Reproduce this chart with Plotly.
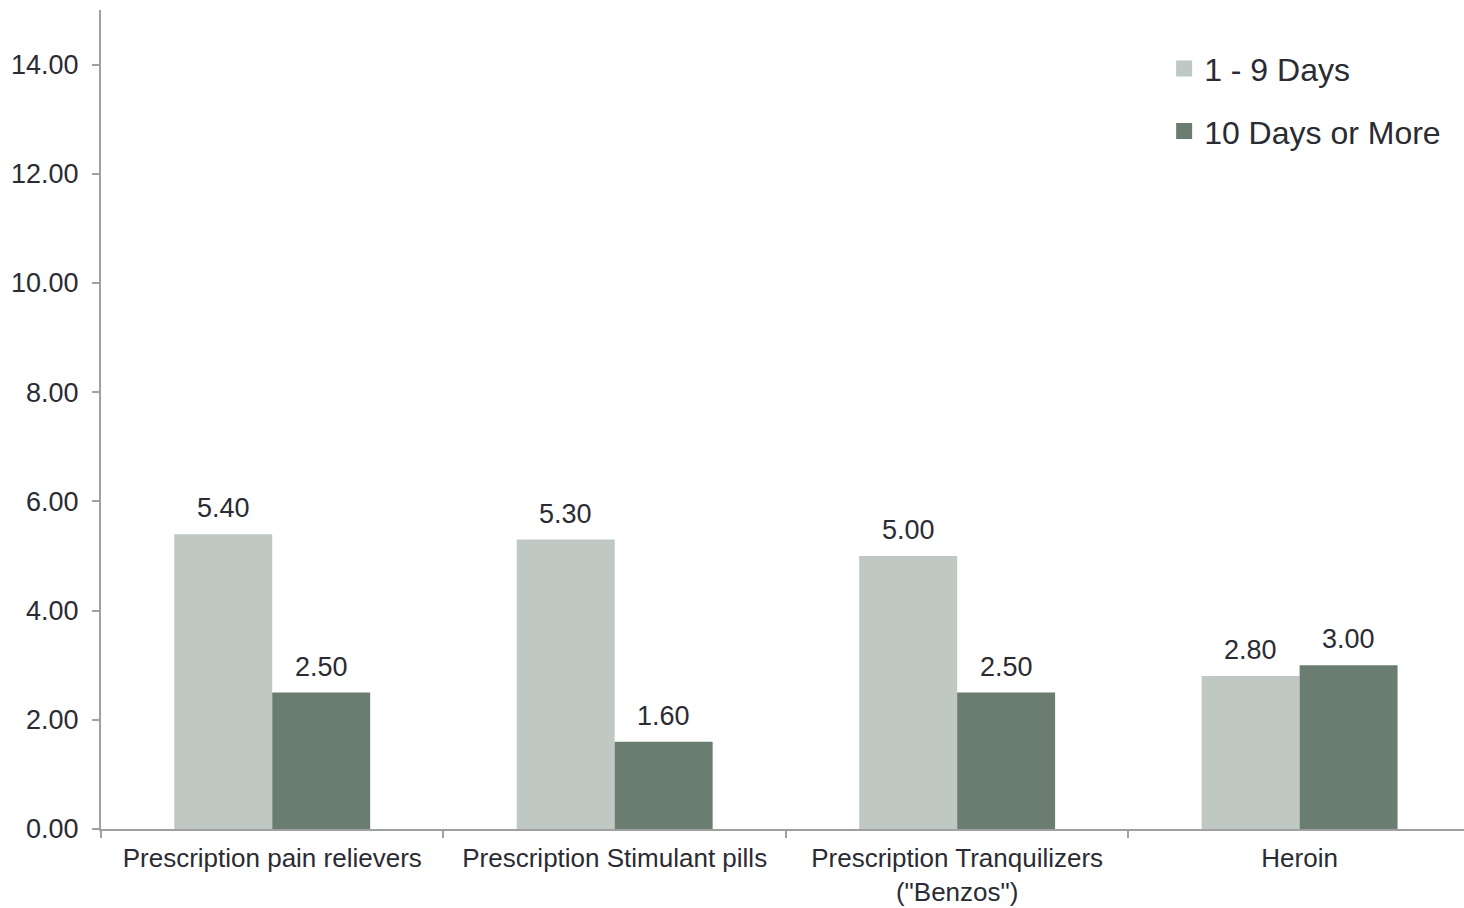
import plotly.graph_objects as go

categories = ["Prescription pain relievers", "Prescription Stimulant pills",
              "Prescription Tranquilizers<br>(\"Benzos\")", "Heroin"]
series_names = ["1 - 9 Days", "10 Days or More"]
days_1_9 = [5.40, 5.30, 5.00, 2.80]
days_10_plus = [2.50, 1.60, 2.50, 3.00]
y_ticks = [0, 2, 4, 6, 8, 10, 12, 14]

colors = ["#BFC8C2", "#6B7C71"]
text_color = "#2B2B33"
axis_color = "#A0A0A0"
font_family = "Liberation Sans, Arial, sans-serif"
bargap = 0.428

fig = go.Figure()
for name, vals, col in zip(series_names, [days_1_9, days_10_plus], colors):
    fig.add_trace(go.Bar(
        x=categories, y=vals, name=name, marker=dict(color=col, line=dict(width=0)),
        showlegend=False,
    ))
# legend entries with larger square symbols
for i, (name, col) in enumerate(zip(series_names, colors)):
    fig.add_trace(go.Scatter(
        x=[None], y=[None], mode="markers", name=name,
        marker=dict(symbol="square", size=16, color=col),
        legendgroup=f"g{i}", showlegend=True,
    ))

# value labels above each bar (positions derived from category index and bar width)
bar_w = (1 - bargap) / 2
annotations = []
for s, vals in enumerate([days_1_9, days_10_plus]):
    off = (s - 0.5) * bar_w
    for i, v in enumerate(vals):
        annotations.append(dict(
            x=i + off, y=v, xref="x", yref="y", text=f"{v:.2f}",
            showarrow=False, yanchor="bottom", yshift=9,
            font=dict(size=27, color=text_color, family=font_family),
        ))

fig.update_layout(
    width=1464, height=908,
    margin=dict(l=101, r=0, t=10, b=79),
    paper_bgcolor="white", plot_bgcolor="white",
    barmode="group", bargap=bargap, bargroupgap=0,
    font=dict(family=font_family, color=text_color, size=27),
    annotations=annotations,
    legend=dict(x=0.78, y=0.962, xanchor="left", yanchor="top",
                font=dict(size=32, color=text_color, family=font_family),
                tracegroupgap=18, itemwidth=30, bgcolor="rgba(0,0,0,0)"),
    xaxis=dict(
        type="category", range=[-0.5, 3.48], automargin=False,
        showline=True, linecolor=axis_color, linewidth=2,
        ticks="outside", tickson="boundaries", ticklen=7, tickcolor=axis_color, tickwidth=2,
        tickfont=dict(size=26, color=text_color, family=font_family),
        ticklabelstandoff=5,
        showgrid=False, zeroline=False,
    ),
    yaxis=dict(
        range=[0, 15], tickvals=y_ticks, tickformat=".2f", automargin=False,
        showline=True, linecolor=axis_color, linewidth=2,
        ticks="outside", ticklen=7, tickcolor=axis_color, tickwidth=2,
        tickfont=dict(size=27, color=text_color, family=font_family),
        ticklabelstandoff=8,
        showgrid=False, zeroline=False,
    ),
)

fig.write_html("out.html")
